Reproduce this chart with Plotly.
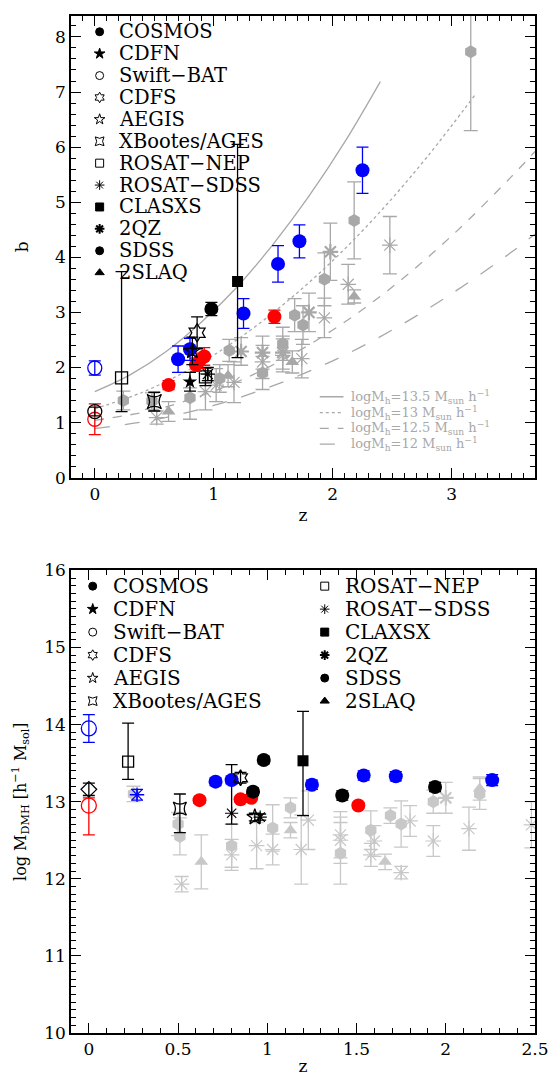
import plotly.graph_objects as go

FONT = "DejaVu Serif"
GRAY_T = "#a8a8a8"
GRAY_B = "#c8c8c8"

# ================= TOP PANEL : bias b versus z =================
# model curves
m135_z = [0, 0.3, 0.6, 0.9, 1.2, 1.5, 1.8, 2.1, 2.4]
m135_b = [1.56, 1.87, 2.29, 2.83, 3.47, 4.24, 5.11, 6.09, 7.19]
m13_z = [0, 0.4, 0.8, 1.2, 1.6, 2.0, 2.4, 2.8, 3.2]
m13_b = [1.25, 1.55, 1.97, 2.51, 3.17, 3.94, 4.83, 5.84, 6.96]
m125_z = [0, 0.5, 1.0, 1.5, 2.0, 2.5, 3.0, 3.5, 3.7]
m125_b = [1.04, 1.23, 1.57, 2.05, 2.68, 3.46, 4.39, 5.46, 5.92]
m12_z = [0, 0.5, 1.0, 1.5, 2.0, 2.5, 3.0, 3.5, 3.7]
m12_b = [0.89, 1.05, 1.31, 1.67, 2.12, 2.68, 3.34, 4.09, 4.42]
curve_labels = ["13.5", "13", "12.5", "12"]

# gray literature points
t_sdss_z = [0.24, 0.48, 0.8, 1.05, 1.13, 1.41, 1.58, 1.68, 1.75, 1.93, 2.18, 3.16]
t_sdss_b = [1.4, 1.39, 1.45, 1.8, 2.31, 1.9, 2.43, 2.95, 2.77, 3.6, 4.67, 7.73]
t_sdss_ep = [0.17, 0.15, 0.18, 0.25, 0.2, 0.3, 0.3, 0.3, 0.35, 0.48, 0.7, 1.0]
t_sdss_em = [0.17, 0.15, 0.39, 0.25, 0.2, 0.3, 0.3, 0.3, 0.35, 0.48, 0.7, 1.43]
t_rs_z = [0.52, 0.93, 1.02, 1.17, 1.41, 1.58, 1.74, 1.93, 2.13, 2.48]
t_rs_b = [1.09, 1.56, 1.68, 1.73, 2.1, 2.22, 2.16, 2.9, 3.51, 4.22]
t_rs_e = [0.12, 0.33, 0.3, 0.37, 0.3, 0.3, 0.35, 0.36, 0.36, 0.52]
t_2qz_z = [1.23, 1.41, 1.58, 1.8, 1.98]
t_2qz_b = [2.29, 2.27, 2.27, 3.0, 4.1]
t_2qz_e = [0.25, 0.3, 0.3, 0.35, 0.52]
t_2slaq_z = [0.62, 1.12, 1.66, 2.18]
t_2slaq_b = [1.2, 1.85, 2.1, 3.29]
t_2slaq_e = [0.18, 0.2, 0.2, 0.12]

# X-ray samples
t_cosmos_z = [0.98]; t_cosmos_b = [3.06]; t_cosmos_e = [0.12]
t_cdfn_z = [0.8]; t_cdfn_b = [1.74]; t_cdfn_e = [0.17]
t_cdfs_z = [0.86]; t_cdfs_b = [2.63]; t_cdfs_e = [0.29]
t_aegis_z = [0.82]; t_aegis_b = [2.3]; t_aegis_e = [0.25]
t_xb_z = [0.5]; t_xb_b = [1.38]; t_xb_e = [0.17]
t_nep_z = [0.225, 0.93]; t_nep_b = [1.81, 1.83]; t_nep_ep = [1.93, 0.16]; t_nep_em = [0.61, 0.16]
t_rsk_z = [0.95]; t_rsk_b = [1.88]; t_rsk_e = [0.12]
t_clasxs_z = [1.2]; t_clasxs_b = [3.56]; t_clasxs_ep = [2.49]; t_clasxs_em = [1.38]
t_swift_z = [0]; t_swift_b = [1.2]; t_swift_e = [0.08]
t_swiftr_z = [0]; t_swiftr_b = [1.06]; t_swiftr_e = [0.28]
t_swiftb_z = [0]; t_swiftb_b = [1.99]; t_swiftb_e = [0.13]
t_blue_z = [0.7, 0.8, 1.25, 1.54, 1.72, 2.25]
t_blue_b = [2.15, 2.33, 2.98, 3.88, 4.29, 5.58]
t_blue_e = [0.24, 0.2, 0.27, 0.33, 0.3, 0.42]
t_red_z = [0.62, 0.85, 0.88, 0.92, 1.51]
t_red_b = [1.68, 2.05, 2.12, 2.2, 2.92]
t_red_e = [0.08, 0.12, 0.14, 0.16, 0.12]

# ================= BOTTOM PANEL : log M_DMH versus z =================
b_sdss_z = [0.25, 0.5, 0.51, 0.8, 1.03, 1.13, 1.41, 1.58, 1.69, 1.75, 1.93, 2.19]
b_sdss_m = [13.1, 12.71, 12.55, 12.43, 12.66, 12.92, 12.33, 12.63, 12.82, 12.71, 13.0, 13.1]
b_sdss_e = [0.1, 0.15, 0.24, 0.28, 0.3, 0.13, 0.4, 0.25, 0.1, 0.3, 0.15, 0.2]
b_rs_z = [0.52, 0.8, 0.94, 1.03, 1.19, 1.23, 1.41, 1.41, 1.6, 1.58, 1.75, 1.8, 1.93, 2.13, 2.48]
b_rs_m = [11.93, 12.31, 12.43, 12.38, 12.38, 12.76, 12.57, 12.5, 12.49, 12.31, 12.08, 12.75, 12.49, 12.65, 12.7]
b_rs_e = [0.1, 0.2, 0.3, 0.2, 0.45, 0.38, 0.3, 0.3, 0.2, 0.15, 0.08, 0.2, 0.2, 0.28, 0.3]
b_2qz_z = [2.0]; b_2qz_m = [13.05]; b_2qz_e = [0.2]
b_2slaq_z = [0.63, 1.13, 1.66, 2.19]
b_2slaq_m = [12.22, 12.63, 12.22, 13.17]
b_2slaq_e = [0.35, 0.1, 0.1, 0.15]

b_cosmos_z = [0.92, 0.98, 1.42, 1.94]
b_cosmos_m = [13.13, 13.54, 13.08, 13.19]
b_cosmos_e = [0.05, 0.05, 0.06, 0.06]
b_cdfn_z = [0.8]; b_cdfn_m = [12.85]; b_cdfn_ep = [0.63]; b_cdfn_em = [0.14]
b_cdfs_z = [0.85]; b_cdfs_m = [13.31]; b_cdfs_e = [0.07]
b_aegis_z = [0.93]; b_aegis_m = [12.8]; b_aegis_e = [0.05]
b_rsk_z = [0.96]; b_rsk_m = [12.8]; b_rsk_e = [0.04]
b_xb_z = [0.51]; b_xb_m = [12.91]; b_xb_ep = [0.19]; b_xb_em = [0.31]
b_nep_z = [0.22]; b_nep_m = [13.52]; b_nep_ep = [0.5]; b_nep_em = [0.23]
b_clax_z = [1.2]; b_clax_m = [13.53]; b_clax_ep = [0.64]; b_clax_em = [0.71]
b_swiftb_z = [0]; b_swiftb_m = [13.95]; b_swiftb_e = [0.18]
b_swiftr_z = [0]; b_swiftr_m = [12.95]; b_swiftr_ep = [0.1]; b_swiftr_em = [0.38]
b_diam_z = [0]; b_diam_m = [13.16]; b_diam_e = [0.08]
b_bast_z = [0.27]; b_bast_m = [13.09]; b_bast_e = [0.07]
b_blue_z = [0.71, 0.8, 1.25, 1.54, 1.72, 2.26]
b_blue_m = [13.26, 13.28, 13.22, 13.34, 13.33, 13.28]
b_blue_e = [0.05, 0.05, 0.06, 0.06, 0.06, 0.07]
b_red_z = [0.62, 0.85, 0.91, 1.51]
b_red_m = [13.02, 13.03, 13.05, 12.95]
b_red_e = [0.04, 0.04, 0.04, 0.04]

legend_top = ["COSMOS", "CDFN", "Swift−BAT", "CDFS", "AEGIS", "XBootes/AGES",
              "ROSAT−NEP", "ROSAT−SDSS", "CLASXS", "2QZ", "SDSS", "2SLAQ"]
legend_bot_left = ["COSMOS", "CDFN", "Swift−BAT", "CDFS", "AEGIS", "XBootes/AGES"]
legend_bot_right = ["ROSAT−NEP", "ROSAT−SDSS", "CLAXSX", "2QZ", "SDSS", "2SLAQ"]

SYM = {"COSMOS": ("circle", 0), "CDFN": ("star", 0), "Swift−BAT": ("circle-open", 1),
       "CDFS": ("hexagram-open", 1), "AEGIS": ("star-open", 1),
       "XBootes/AGES": ("star-square-open", 1), "ROSAT−NEP": ("square-open", 1),
       "ROSAT−SDSS": ("asterisk-open", 1), "CLASXS": ("square", 0), "CLAXSX": ("square", 0),
       "2QZ": ("asterisk-open", 2), "SDSS": ("circle", 0), "2SLAQ": ("triangle-up", 0)}

fig = go.Figure()


def pts(x, y, ep, em, sym, color, size, xa, ya, lw=0, cap=6, et=1.3):
    fig.add_trace(go.Scatter(
        x=x, y=y, mode="markers", xaxis=xa, yaxis=ya, showlegend=False, hoverinfo="skip",
        marker=dict(symbol=sym, size=size, color=color, line=dict(color=color, width=lw)),
        error_y=dict(type="data", symmetric=False, array=ep, arrayminus=em,
                     color=color, thickness=et, width=cap)))


# ---- top curves ----
for zz, bb, dash in [(m135_z, m135_b, "solid"), (m13_z, m13_b, "dot"),
                     (m125_z, m125_b, "dash"), (m12_z, m12_b, "longdash")]:
    fig.add_trace(go.Scatter(x=zz, y=bb, mode="lines", line=dict(color=GRAY_T, width=1.3, dash=dash, shape="spline"),
                             xaxis="x", yaxis="y", showlegend=False, hoverinfo="skip"))

# ---- top gray ----
pts(t_sdss_z, t_sdss_b, t_sdss_ep, t_sdss_em, "hexagon", GRAY_T, 13, "x", "y", cap=7)
pts(t_rs_z, t_rs_b, t_rs_e, t_rs_e, "asterisk-open", GRAY_T, 13, "x", "y", lw=1.2, cap=7)
pts(t_2qz_z, t_2qz_b, t_2qz_e, t_2qz_e, "asterisk-open", GRAY_T, 13, "x", "y", lw=2.2, cap=7)
pts(t_2slaq_z, t_2slaq_b, t_2slaq_e, t_2slaq_e, "triangle-up", GRAY_T, 12, "x", "y", cap=7)
# ---- top coloured ----
pts(t_swiftr_z, t_swiftr_b, t_swiftr_e, t_swiftr_e, "circle-open", "red", 14, "x", "y", lw=1.3)
pts(t_swift_z, t_swift_b, t_swift_e, t_swift_e, "circle-open", "black", 14, "x", "y", lw=1.3)
pts(t_swiftb_z, t_swiftb_b, t_swiftb_e, t_swiftb_e, "circle-open", "blue", 14, "x", "y", lw=1.3)
pts(t_nep_z, t_nep_b, t_nep_ep, t_nep_em, "square-open", "black", 12, "x", "y", lw=1.3)
pts(t_rsk_z, t_rsk_b, t_rsk_e, t_rsk_e, "asterisk-open", "black", 12, "x", "y", lw=1.2)
pts(t_xb_z, t_xb_b, t_xb_e, t_xb_e, "star-square-open", "black", 13, "x", "y", lw=1.3)
pts(t_cdfn_z, t_cdfn_b, t_cdfn_e, t_cdfn_e, "star", "black", 11, "x", "y")
pts(t_red_z, t_red_b, t_red_e, t_red_e, "circle", "red", 14, "x", "y")
pts(t_blue_z, t_blue_b, t_blue_e, t_blue_e, "circle", "blue", 14, "x", "y")
pts(t_aegis_z, t_aegis_b, t_aegis_e, t_aegis_e, "star-open", "black", 12, "x", "y", lw=1.3)
pts(t_cdfs_z, t_cdfs_b, t_cdfs_e, t_cdfs_e, "hexagram-open", "black", 14, "x", "y", lw=1.3)
pts(t_clasxs_z, t_clasxs_b, t_clasxs_ep, t_clasxs_em, "square", "black", 11, "x", "y")
pts(t_cosmos_z, t_cosmos_b, t_cosmos_e, t_cosmos_e, "circle", "black", 14, "x", "y")

# ---- bottom gray ----
pts(b_sdss_z, b_sdss_m, b_sdss_e, b_sdss_e, "hexagon", GRAY_B, 13, "x2", "y2", cap=7)
pts(b_rs_z, b_rs_m, b_rs_e, b_rs_e, "asterisk-open", GRAY_B, 13, "x2", "y2", lw=1.2, cap=7)
pts(b_2qz_z, b_2qz_m, b_2qz_e, b_2qz_e, "asterisk-open", GRAY_B, 13, "x2", "y2", lw=2.2, cap=7)
pts(b_2slaq_z, b_2slaq_m, b_2slaq_e, b_2slaq_e, "triangle-up", GRAY_B, 12, "x2", "y2", cap=7)
# ---- bottom coloured ----
pts(b_swiftb_z, b_swiftb_m, b_swiftb_e, b_swiftb_e, "circle-open", "blue", 15, "x2", "y2", lw=1.3)
pts(b_swiftr_z, b_swiftr_m, b_swiftr_ep, b_swiftr_em, "circle-open", "red", 15, "x2", "y2", lw=1.3)
pts(b_diam_z, b_diam_m, b_diam_e, b_diam_e, "diamond-open", "black", 12, "x2", "y2", lw=1.3)
pts(b_nep_z, b_nep_m, b_nep_ep, b_nep_em, "square-open", "black", 11, "x2", "y2", lw=1.3)
pts(b_bast_z, b_bast_m, b_bast_e, b_bast_e, "asterisk-open", "blue", 12, "x2", "y2", lw=1.3)
pts(b_xb_z, b_xb_m, b_xb_ep, b_xb_em, "star-square-open", "black", 12, "x2", "y2", lw=1.3)
pts(b_cdfn_z, b_cdfn_m, b_cdfn_ep, b_cdfn_em, "asterisk-open", "black", 11, "x2", "y2", lw=1.2)
pts(b_red_z, b_red_m, b_red_e, b_red_e, "circle", "red", 14, "x2", "y2")
pts(b_blue_z, b_blue_m, b_blue_e, b_blue_e, "circle", "blue", 14, "x2", "y2")
pts(b_cdfs_z, b_cdfs_m, b_cdfs_e, b_cdfs_e, "hexagram-open", "black", 12, "x2", "y2", lw=1.3)
pts(b_aegis_z, b_aegis_m, b_aegis_e, b_aegis_e, "star-open", "black", 12, "x2", "y2", lw=1.3)
pts(b_rsk_z, b_rsk_m, b_rsk_e, b_rsk_e, "asterisk-open", "black", 11, "x2", "y2", lw=1.2)
pts(b_cosmos_z, b_cosmos_m, b_cosmos_e, b_cosmos_e, "circle", "black", 14, "x2", "y2")
pts(b_clax_z, b_clax_m, b_clax_ep, b_clax_em, "square", "black", 11, "x2", "y2")

# ---------- geometry (pixels) ----------
W, H = 555, 1079
ML, MR, MT, MB = 71, 14, 6, 42
PW, PH = W - ML - MR, H - MT - MB
top_y0, top_y1 = 474, 6        # pixel rows of top panel frame
bot_y0, bot_y1 = 1037, 568     # pixel rows of bottom panel frame
dom_top = [(H - MB - top_y0) / PH, 1.0]
dom_bot = [0.0, (H - MB - bot_y1) / PH]

annotations = []


def ov_x(px):
    return (px - ML) / PW


def ov_y(py, y0, y1):
    return (y0 - py) / (y0 - y1)


# ---- top legend (overlay axes x3/y3) ----
for i, name in enumerate(legend_top):
    py = 22 + 22.2 * i
    sym, lw = SYM[name]
    fig.add_trace(go.Scatter(x=[ov_x(100)], y=[ov_y(py, top_y0, top_y1)], mode="markers",
                             xaxis="x3", yaxis="y3", showlegend=False, hoverinfo="skip",
                             marker=dict(symbol=sym, size=8, color="black", line=dict(color="black", width=max(lw, 1)))))
    annotations.append(dict(x=ov_x(118), y=ov_y(py, top_y0, top_y1), xref="x3", yref="y3", text=name,
                            showarrow=False, xanchor="left", yanchor="middle",
                            font=dict(family=FONT, size=19.5, color="black")))

# ---- curve legend ----
for i, (lab, dash) in enumerate(zip(curve_labels, ["solid", "dot", "dash", "longdash"])):
    py = [392, 408, 424, 440][i]
    yy = ov_y(py, top_y0, top_y1)
    fig.add_trace(go.Scatter(x=[ov_x(323), ov_x(347)], y=[yy, yy], mode="lines",
                             xaxis="x3", yaxis="y3", showlegend=False, hoverinfo="skip",
                             line=dict(color=GRAY_T, width=1.3, dash=dash)))
    annotations.append(dict(x=ov_x(353), y=yy, xref="x3", yref="y3",
                            text="logM<sub>h</sub>=" + lab + " M<sub>sun</sub> h<sup>−1</sup>",
                            showarrow=False, xanchor="left", yanchor="middle",
                            font=dict(family=FONT, size=13, color=GRAY_T)))

# ---- bottom legend (overlay axes x4/y4) ----
for col, (names, mx, tx) in enumerate([(legend_bot_left, 93, 112), (legend_bot_right, 328, 347)]):
    for i, name in enumerate(names):
        py = 584 + 23.3 * i
        sym, lw = SYM[name]
        fig.add_trace(go.Scatter(x=[ov_x(mx)], y=[ov_y(py, bot_y0, bot_y1)], mode="markers",
                                 xaxis="x4", yaxis="y4", showlegend=False, hoverinfo="skip",
                                 marker=dict(symbol=sym, size=8, color="black", line=dict(color="black", width=max(lw, 1)))))
        annotations.append(dict(x=ov_x(tx), y=ov_y(py, bot_y0, bot_y1), xref="x4", yref="y4", text=name,
                                showarrow=False, xanchor="left", yanchor="middle",
                                font=dict(family=FONT, size=20, color="black")))

axis_common = dict(showline=True, linecolor="black", linewidth=1.6, mirror="allticks",
                   ticks="inside", ticklen=10, tickwidth=1.3, tickcolor="black",
                   showgrid=False, zeroline=False,
                   tickfont=dict(family=FONT, size=17, color="black"))

fig.update_layout(
    width=W, height=H, margin=dict(l=ML, r=MR, t=MT, b=MB),
    paper_bgcolor="white", plot_bgcolor="white", showlegend=False,
    font=dict(family=FONT, color="black"),
    xaxis=dict(**axis_common, domain=[0, 1], anchor="y", range=[-0.2, 3.7],
               tickvals=[0, 1, 2, 3], minor=dict(dtick=0.1, ticks="inside", ticklen=5, tickcolor="black", tickwidth=1.2),
               title=dict(text="z", font=dict(family=FONT, size=17), standoff=6)),
    yaxis=dict(**axis_common, domain=dom_top, anchor="x", range=[0, 8.38],
               tickvals=list(range(0, 9)), minor=dict(dtick=0.2, ticks="inside", ticklen=5, tickcolor="black", tickwidth=1.2),
               title=dict(text="b", font=dict(family=FONT, size=17), standoff=22)),
    xaxis2=dict(**axis_common, domain=[0, 1], anchor="y2", range=[-0.1, 2.5],
                tickvals=[0, 0.5, 1, 1.5, 2, 2.5], ticktext=["0", "0.5", "1", "1.5", "2", "2.5"],
                minor=dict(dtick=0.1, ticks="inside", ticklen=5, tickcolor="black", tickwidth=1.2),
                title=dict(text="z", font=dict(family=FONT, size=17), standoff=2)),
    yaxis2=dict(**axis_common, domain=dom_bot, anchor="x2", range=[10, 16],
                tickvals=list(range(10, 17)), minor=dict(dtick=0.1, ticks="inside", ticklen=5, tickcolor="black", tickwidth=1.2),
                title=dict(text="log M<sub>DMH</sub> [h<sup>−1</sup> M<sub>sol</sub>]", font=dict(family=FONT, size=16), standoff=14)),
    xaxis3=dict(overlaying="x", anchor="y3", range=[0, 1], visible=False, fixedrange=True),
    yaxis3=dict(overlaying="y", anchor="x3", range=[0, 1], visible=False, fixedrange=True),
    xaxis4=dict(overlaying="x2", anchor="y4", range=[0, 1], visible=False, fixedrange=True),
    yaxis4=dict(overlaying="y2", anchor="x4", range=[0, 1], visible=False, fixedrange=True),
    annotations=annotations,
)

fig.write_html("out.html")
